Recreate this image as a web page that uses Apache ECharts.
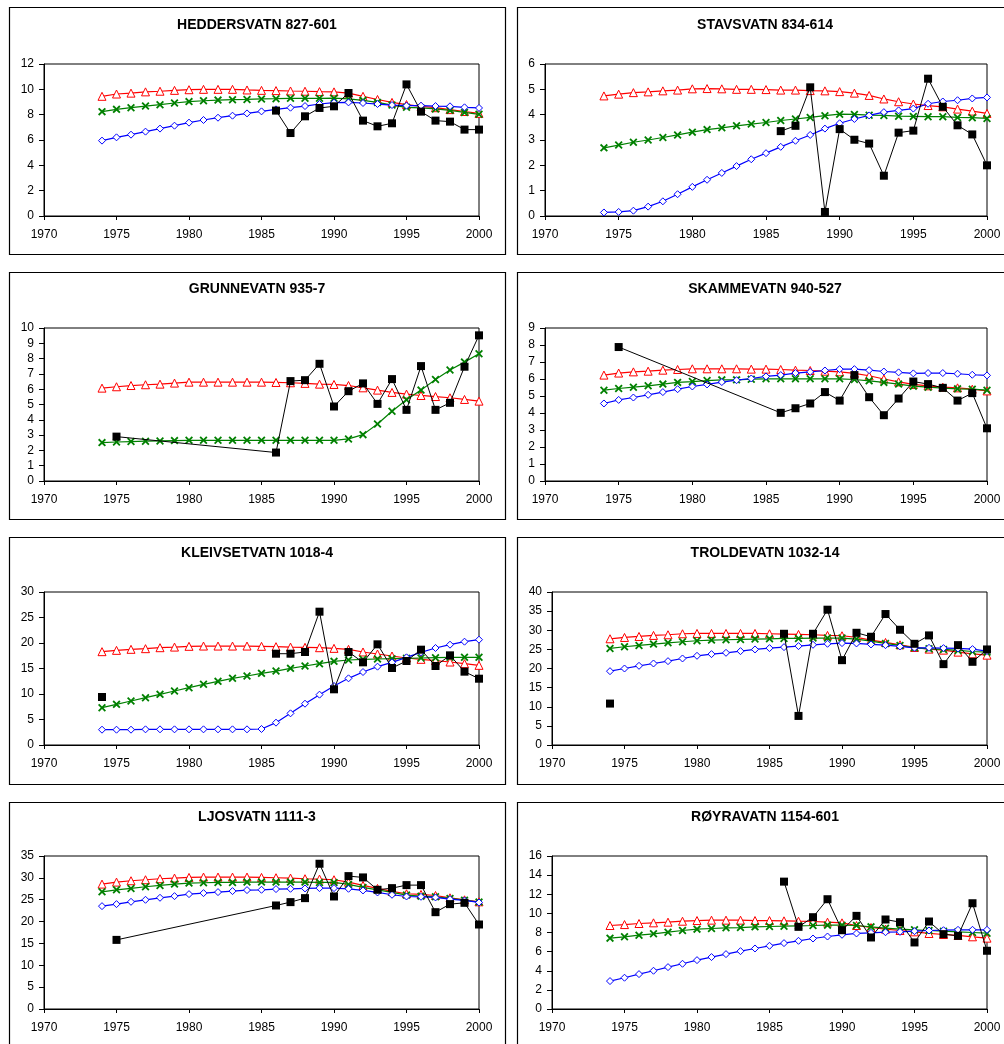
<!DOCTYPE html>
<html><head><meta charset="utf-8">
<script src="https://cdn.jsdelivr.net/npm/echarts@6/dist/echarts.min.js"></script>
<style>html,body{margin:0;padding:0;background:#fff}#c{width:1004px;height:1044px}</style>
</head><body><div id="c"></div>
<script>
const YEARS = [1974,1975,1976,1977,1978,1979,1980,1981,1982,1983,1984,1985,1986,1987,1988,1989,1990,1991,1992,1993,1994,1995,1996,1997,1998,1999,2000];
const X_TICKS = [1970, 2000, 5];
const TITLES = ['HEDDERSVATN 827-601','STAVSVATN 834-614','GRUNNEVATN 935-7','SKAMMEVATN 940-527','KLEIVSETVATN 1018-4','TROLDEVATN 1032-14','LJOSVATN 1111-3','RØYRAVATN 1154-601'];
const Y_MAX = [12, 6, 10, 9, 30, 40, 35, 16];
const Y_STEP = [2, 1, 1, 1, 5, 5, 5, 2];
const N = null;

const heddRed = [9.45,9.63,9.7,9.8,9.85,9.92,9.97,10.0,10.0,10.0,9.95,9.92,9.9,9.87,9.85,9.82,9.8,9.7,9.45,9.2,8.97,8.8,8.65,8.55,8.4,8.25,8.1];
const heddGreen = [8.24,8.42,8.55,8.68,8.79,8.92,9.03,9.1,9.15,9.18,9.2,9.24,9.26,9.29,9.29,9.29,9.3,9.24,9.13,8.97,8.76,8.58,8.53,8.45,8.34,8.18,8.03];
const heddBlue = [5.95,6.21,6.42,6.66,6.9,7.13,7.37,7.58,7.76,7.92,8.1,8.26,8.42,8.55,8.68,8.84,8.95,8.97,8.92,8.84,8.76,8.71,8.71,8.68,8.66,8.58,8.53];
const heddObs = [N,N,N,N,N,N,N,N,N,N,N,N,8.32,6.55,7.87,8.53,8.66,9.71,7.53,7.08,7.32,10.39,8.24,7.53,7.45,6.82,6.82];

const stavRed = [4.74,4.81,4.87,4.9,4.94,4.97,5.02,5.03,5.02,5.0,5.0,4.99,4.97,4.97,4.95,4.94,4.91,4.85,4.76,4.62,4.51,4.42,4.36,4.31,4.22,4.14,4.05];
const stavGreen = [2.69,2.8,2.91,3.0,3.1,3.2,3.31,3.41,3.48,3.56,3.63,3.69,3.77,3.83,3.89,3.96,4.02,4.01,3.98,3.97,3.94,3.93,3.92,3.92,3.89,3.88,3.85];
const stavBlue = [0.14,0.16,0.21,0.37,0.58,0.86,1.15,1.43,1.7,1.97,2.24,2.48,2.73,2.97,3.2,3.45,3.66,3.83,3.97,4.1,4.17,4.24,4.43,4.52,4.57,4.64,4.68];
const stavObs = [N,N,N,N,N,N,N,N,N,N,N,N,3.35,3.56,5.08,0.16,3.43,3.01,2.86,1.59,3.29,3.37,5.42,4.31,3.58,3.22,2.0];

const grunRed = [6.07,6.16,6.24,6.29,6.33,6.4,6.46,6.46,6.46,6.46,6.46,6.46,6.44,6.42,6.38,6.33,6.31,6.24,6.09,5.94,5.79,5.68,5.59,5.52,5.44,5.33,5.22];
const grunGreen = [2.51,2.55,2.58,2.6,2.62,2.64,2.66,2.66,2.66,2.66,2.66,2.66,2.66,2.66,2.66,2.66,2.66,2.75,3.03,3.73,4.56,5.31,5.94,6.64,7.25,7.77,8.32];
const grunBlue = null;
const grunObs = [N,2.9,N,N,N,N,N,N,N,N,N,N,1.86,6.53,6.59,7.66,4.87,5.87,6.38,5.04,6.66,4.65,7.51,4.65,5.11,7.47,9.52];

const skamRed = [6.23,6.35,6.42,6.46,6.52,6.56,6.6,6.6,6.6,6.6,6.58,6.58,6.56,6.52,6.5,6.46,6.42,6.33,6.19,6.0,5.83,5.68,5.6,5.52,5.48,5.4,5.3];
const skamGreen = [5.34,5.44,5.52,5.6,5.7,5.8,5.85,5.91,5.95,5.95,5.99,6.01,6.01,6.01,6.01,6.01,6.01,5.97,5.89,5.8,5.7,5.58,5.52,5.46,5.42,5.4,5.34];
const skamBlue = [4.56,4.77,4.91,5.07,5.23,5.4,5.56,5.68,5.82,5.93,6.03,6.15,6.23,6.35,6.42,6.5,6.58,6.58,6.52,6.44,6.39,6.33,6.35,6.35,6.31,6.25,6.21];
const skamObs = [N,7.88,N,N,N,N,N,N,N,N,N,N,4.01,4.28,4.56,5.23,4.73,6.23,4.93,3.87,4.85,5.85,5.7,5.48,4.73,5.17,3.1];

const kleiRed = [18.3,18.56,18.76,18.89,19.08,19.2,19.35,19.4,19.4,19.4,19.4,19.35,19.28,19.2,19.15,19.08,18.95,18.76,18.24,17.84,17.45,17.06,16.8,16.54,16.27,15.95,15.62];
const kleiGreen = [7.32,7.97,8.63,9.28,9.93,10.59,11.24,11.9,12.48,13.07,13.53,14.05,14.5,15.03,15.49,15.95,16.4,16.67,16.8,16.86,16.93,17.0,17.06,17.12,17.19,17.19,17.19];
const kleiBlue = [3.0,3.0,3.0,3.07,3.07,3.07,3.07,3.07,3.07,3.07,3.07,3.14,4.38,6.21,8.1,9.87,11.57,13.07,14.31,15.36,16.21,17.19,18.17,19.02,19.67,20.26,20.65];
const kleiObs = [9.41,N,N,N,N,N,N,N,N,N,N,N,17.9,17.9,18.24,26.14,10.92,18.24,16.21,19.74,15.1,16.47,18.69,15.49,17.58,14.38,13.0];

const trolRed = [27.77,28.12,28.38,28.65,28.82,29.08,29.17,29.17,29.17,29.17,29.17,29.08,29.0,28.91,28.82,28.65,28.56,28.12,27.42,26.81,26.2,25.5,25.07,24.8,24.28,23.84,23.49];
const trolGreen = [25.24,25.68,26.03,26.38,26.72,26.99,27.25,27.42,27.51,27.6,27.69,27.77,27.86,27.86,27.95,27.95,27.95,27.69,27.16,26.55,26.03,25.41,25.15,24.98,24.72,24.45,24.28];
const trolBlue = [19.3,20.0,20.7,21.31,21.92,22.62,23.32,23.76,24.1,24.54,24.98,25.33,25.59,25.85,26.2,26.46,26.64,26.55,26.29,26.11,25.76,25.41,25.41,25.33,25.24,25.07,24.54];
const trolObs = [10.83,N,N,N,N,N,N,N,N,N,N,N,29.08,7.6,29.08,35.37,22.18,29.34,28.3,34.24,30.13,26.46,28.65,21.14,26.11,21.75,24.98];

const ljosRed = [28.57,29.03,29.34,29.57,29.8,29.95,30.1,30.18,30.18,30.18,30.18,30.1,30.03,29.95,29.8,29.72,29.57,29.03,28.27,27.58,26.89,26.36,26.2,25.97,25.44,24.98,24.52];
const ljosGreen = [26.81,27.27,27.58,27.96,28.27,28.57,28.8,28.88,28.95,28.95,29.03,29.03,29.03,29.03,29.03,28.95,28.95,28.5,27.81,27.27,26.66,26.05,25.82,25.67,25.29,24.9,24.45];
const ljosBlue = [23.53,23.99,24.52,24.98,25.44,25.82,26.28,26.51,26.74,26.97,27.2,27.27,27.43,27.5,27.58,27.65,27.65,27.5,27.12,26.66,26.13,25.74,25.67,25.52,25.13,24.83,24.37];
const ljosObs = [N,15.81,N,N,N,N,N,N,N,N,N,N,23.68,24.45,25.36,33.23,25.74,30.4,30.1,27.27,27.65,28.34,28.34,22.15,23.99,24.29,19.33];

const royrRed = [8.73,8.83,8.94,9.01,9.08,9.18,9.25,9.29,9.29,9.29,9.25,9.25,9.22,9.18,9.15,9.08,9.01,8.73,8.52,8.35,8.21,8.07,7.9,7.79,7.69,7.55,7.41];
const royrGreen = [7.41,7.55,7.72,7.86,8.03,8.21,8.35,8.42,8.49,8.52,8.59,8.63,8.66,8.7,8.73,8.77,8.77,8.73,8.59,8.45,8.35,8.28,8.21,8.14,8.07,8.0,7.93];
const royrBlue = [2.92,3.27,3.65,4.0,4.38,4.73,5.11,5.43,5.74,6.05,6.33,6.61,6.89,7.13,7.37,7.58,7.76,7.9,7.97,8.03,8.07,8.14,8.21,8.24,8.28,8.28,8.28];
const royrObs = [N,N,N,N,N,N,N,N,N,N,N,N,13.32,8.59,9.6,11.48,8.24,9.74,7.48,9.36,9.08,6.96,9.15,7.83,7.65,11.06,6.09];

// observed series: whether the gap before 1986 is bridged by a line
const OBS_BRIDGE = [true, true, true, true, false, false, true, true];

const LAKES = [
  [heddRed, heddGreen, heddBlue, heddObs],
  [stavRed, stavGreen, stavBlue, stavObs],
  [grunRed, grunGreen, grunBlue, grunObs],
  [skamRed, skamGreen, skamBlue, skamObs],
  [kleiRed, kleiGreen, kleiBlue, kleiObs],
  [trolRed, trolGreen, trolBlue, trolObs],
  [ljosRed, ljosGreen, ljosBlue, ljosObs],
  [royrRed, royrGreen, royrBlue, royrObs]
];

// layout (pixels)
const BOX_X = [9, 517], BOX_Y = [7, 272, 537, 802], BOX_W = 496, BOX_H = 247;
const GRID = [
  [44, 64, 435, 152], [545, 64, 442, 152],
  [44, 328, 435, 153], [545, 328, 442, 153],
  [44, 592, 435, 153], [552, 592, 435, 153],
  [44, 856, 435, 153], [552, 856, 435, 153]
];
const TITLE_DY = [18.5, 17.5, 16.5, 15.5];
const FONT = 'Liberation Sans, Arial, sans-serif';
const XMARK = 'path://M0,1.6L1.6,0L5,3.4L8.4,0L10,1.6L6.6,5L10,8.4L8.4,10L5,6.6L1.6,10L0,8.4L3.4,5Z';

function pairs(vals) {
  return YEARS.map((y, i) => vals[i] == null ? [y, '-'] : [y, vals[i]]);
}

const grids = [], xAxes = [], yAxes = [], series = [], graphics = [];
for (let k = 0; k < 8; k++) {
  const col = k % 2, row = Math.floor(k / 2);
  const g = GRID[k];
  grids.push({left: g[0], top: g[1], width: g[2], height: g[3], show: true, borderColor: '#000', borderWidth: 1, backgroundColor: 'transparent'});
  xAxes.push({type: 'value', gridIndex: k, min: X_TICKS[0], max: X_TICKS[1], interval: X_TICKS[2],
    axisLine: {show: true, lineStyle: {color: '#000', width: 1}},
    axisTick: {show: true, length: 4, lineStyle: {color: '#000'}},
    axisLabel: {color: '#000', fontFamily: FONT, fontSize: 12, margin: 13, formatter: v => String(v)},
    splitLine: {show: false}});
  yAxes.push({type: 'value', gridIndex: k, min: 0, max: Y_MAX[k], interval: Y_STEP[k],
    axisLine: {show: true, lineStyle: {color: '#000', width: 1}},
    axisTick: {show: true, length: 5, lineStyle: {color: '#000'}},
    axisLabel: {color: '#000', fontFamily: FONT, fontSize: 12, margin: 10},
    splitLine: {show: false}});
  const [r, gr, b, o] = LAKES[k];
  const base = {type: 'line', xAxisIndex: k, yAxisIndex: k, animation: false, silent: true};
  series.push(Object.assign({}, base, {data: pairs(r), symbol: 'triangle', symbolSize: 8,
    lineStyle: {color: '#ff0000', width: 1.2}, itemStyle: {color: '#fff', borderColor: '#ff0000', borderWidth: 1}, z: 2}));
  series.push(Object.assign({}, base, {data: pairs(gr), symbol: XMARK, symbolSize: 8,
    lineStyle: {color: '#008000', width: 1.2}, itemStyle: {color: '#008000', borderWidth: 0}, z: 3}));
  if (b) series.push(Object.assign({}, base, {data: pairs(b), symbol: 'diamond', symbolSize: 7,
    lineStyle: {color: '#0000ff', width: 1.2}, itemStyle: {color: '#fff', borderColor: '#0000ff', borderWidth: 1}, z: 4}));
  series.push(Object.assign({}, base, {data: pairs(o), symbol: 'rect', symbolSize: 8, connectNulls: OBS_BRIDGE[k],
    lineStyle: {color: '#000', width: 1}, itemStyle: {color: '#000', borderWidth: 0}, z: 5}));
  graphics.push({type: 'rect', shape: {x: BOX_X[col] + 0.5, y: BOX_Y[row] + 0.5, width: BOX_W, height: BOX_H},
    style: {fill: 'none', stroke: '#000', lineWidth: 1.2}, silent: true});
  graphics.push({type: 'text', x: BOX_X[col] + BOX_W / 2, y: BOX_Y[row] + TITLE_DY[row],
    style: {text: TITLES[k], textAlign: 'center', textVerticalAlign: 'middle', font: 'bold 14px ' + FONT, fill: '#000'}, silent: true});
}

const chart = echarts.init(document.getElementById('c'), null, {renderer: 'canvas'});
chart.setOption({animation: false, grid: grids, xAxis: xAxes, yAxis: yAxes, series: series, graphic: graphics});
</script></body></html>
